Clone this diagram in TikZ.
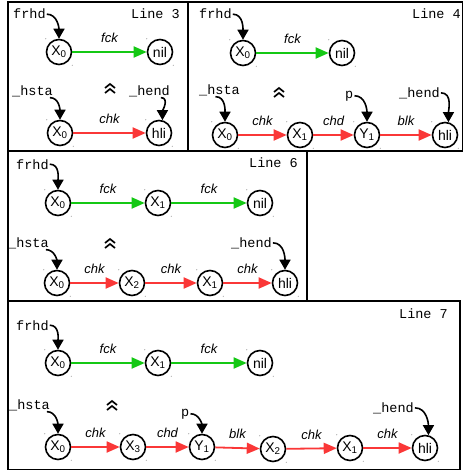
\documentclass[tikz,border=0pt]{standalone}
\usepackage{fontspec}
\setmainfont{Liberation Sans}
\setmonofont{Liberation Mono}
\usetikzlibrary{arrows.meta}

\definecolor{linkgreen}{RGB}{20,200,20}
\definecolor{linkred}{RGB}{250,55,55}

\tikzset{
  elem/.style={circle, draw, line width=1.6pt, minimum size=25pt, inner sep=0pt,
               font=\fontsize{14}{14}\selectfont},
  tag/.style={font=\ttfamily\fontsize{13.5}{13.5}\selectfont, inner sep=1pt, anchor=base west},
  title/.style={font=\ttfamily\fontsize{13.5}{13.5}\selectfont, inner sep=0pt, anchor=base east},
  ptr/.style={line width=1.6pt, -{Triangle[length=10pt,width=11pt]}},
  fwd/.style={draw=linkgreen, line width=1.8pt, -{Triangle[length=13pt,width=11pt]}},
  back/.style={draw=linkred, line width=1.8pt, -{Triangle[length=13pt,width=11pt]}},
  elbl/.style={font=\itshape\fontsize{13}{13}\selectfont, above=7pt, inner sep=1pt},
  frame/.style={line width=1.8pt},
  chev/.style={inner sep=0pt, minimum size=16pt,
    path picture={
      \draw[line width=1.7pt]
        ([shift={(-5pt,1pt)}]path picture bounding box.center) -- ++(5pt,4pt) -- ++(5pt,-4pt);
      \draw[line width=1.7pt]
        ([shift={(-5pt,-4pt)}]path picture bounding box.center) -- ++(5pt,4pt) -- ++(5pt,-4pt);
    }},
}

\newcommand{\ssub}[2]{#1\textsubscript{#2}}

\begin{document}
\begin{tikzpicture}[x=1pt,y=-1pt]
\useasboundingbox (0,0) rectangle (464,471);

% panel frames
\draw[frame] (8,2) rectangle (188,151);
\draw[frame] (188,2) rectangle (462.5,151);
\draw[frame] (8,151) rectangle (307,301);
\draw[frame] (8,301) rectangle (460,469.5);

% ---------- Line 3 ----------
\node[title] (t3) at (180,18) {Line 3};
\node[tag] (fa) at (12,19) {frhd};
\node[elem] (ax0) at (59,52) {\ssub{X}{0}};
\node[elem] (anil) at (160,52) {nil};
\draw[fwd] (ax0) -- node[elbl] {fck} (anil);
\node[chev] (cha) at (110,89) {};
\node[tag] (sa) at (11,95) {\_hsta};
\node[tag] (ea) at (128,95) {\_hend};
\node[elem] (bx0) at (60,133) {\ssub{X}{0}};
\node[elem] (bhli) at (159,133) {hli};
\draw[back] (bx0) -- node[elbl] {chk} (bhli);
\draw[ptr] (fa.east) to[out=0,in=90] (ax0.north);
\draw[ptr] ([xshift=-4pt]sa.south east) to[out=0,in=90] (bx0.north);
\draw[ptr] ([xshift=-10pt]ea.south east) to[out=0,in=90] (bhli.75);

% ---------- Line 4 ----------
\node[title] (t4) at (461,18) {Line 4};
\node[tag] (fb) at (198,19) {frhd};
\node[elem] (cx0) at (243,53) {\ssub{X}{0}};
\node[elem] (cnil) at (342,53) {nil};
\draw[fwd] (cx0) -- node[elbl] {fck} (cnil);
\node[chev] (chb) at (279,93) {};
\node[tag] (sb) at (198,94) {\_hsta};
\node[tag] (pb) at (344,98) {p};
\node[tag] (eb) at (398,97) {\_hend};
\node[elem] (dx0) at (225,135) {\ssub{X}{0}};
\node[elem] (dx1) at (300,135) {\ssub{X}{1}};
\node[elem] (dy1) at (367,135) {\ssub{Y}{1}};
\node[elem] (dhli) at (445,135) {hli};
\draw[back] (dx0) -- node[elbl] {chk} (dx1);
\draw[back] (dx1) -- node[elbl] {chd} (dy1);
\draw[back] (dy1) -- node[elbl] {blk} (dhli);
\draw[ptr] (fb.east) to[out=0,in=90] (cx0.north);
\draw[ptr] ([xshift=-4pt]sb.south) to[out=0,in=90] (dx0.north);
\draw[ptr] (pb.east) to[out=0,in=90] (dy1.north);
\draw[ptr] (eb.east) to[out=0,in=90] (dhli.75);

% ---------- Line 6 ----------
\node[title] (t6) at (298,167) {Line 6};
\node[tag] (fc) at (15,169) {frhd};
\node[elem] (ex0) at (58,203) {\ssub{X}{0}};
\node[elem] (ex1) at (158,203) {\ssub{X}{1}};
\node[elem] (enil) at (260,203) {nil};
\draw[fwd] (ex0) -- node[elbl] {fck} (ex1);
\draw[fwd] (ex1) -- node[elbl] {fck} (enil);
\node[chev] (chc) at (110,244) {};
\node[tag] (sc) at (7,247) {\_hsta};
\node[tag] (ec) at (230,247) {\_hend};
\node[elem] (gx0) at (57,283) {\ssub{X}{0}};
\node[elem] (gx2) at (132,283) {\ssub{X}{2}};
\node[elem] (gx1) at (210,283) {\ssub{X}{1}};
\node[elem] (ghli) at (285,283) {hli};
\draw[back] (gx0) -- node[elbl] {chk} (gx2);
\draw[back] (gx2) -- node[elbl] {chk} (gx1);
\draw[back] (gx1) -- node[elbl] {chk} (ghli);
\draw[ptr] (fc.east) to[out=0,in=90] (ex0.north);
\draw[ptr] ([xshift=-4pt]sc.south east) to[out=0,in=90] (gx0.north);
\draw[ptr] (ec.east) to[out=0,in=90] (ghli.north);

% ---------- Line 7 ----------
\node[title] (t7) at (448,318) {Line 7};
\node[tag] (fd) at (15,330) {frhd};
\node[elem] (hx0) at (58,363) {\ssub{X}{0}};
\node[elem] (hx1) at (158,363) {\ssub{X}{1}};
\node[elem] (hnil) at (260,363) {nil};
\draw[fwd] (hx0) -- node[elbl] {fck} (hx1);
\draw[fwd] (hx1) -- node[elbl] {fck} (hnil);
\node[chev] (chd) at (112,406) {};
\node[tag] (sd) at (8,409) {\_hsta};
\node[tag] (pd) at (180,416) {p};
\node[tag] (ed) at (372,412) {\_hend};
\node[elem] (kx0) at (58,447) {\ssub{X}{0}};
\node[elem] (kx3) at (133,447) {\ssub{X}{3}};
\node[elem] (ky1) at (202,447) {\ssub{Y}{1}};
\node[elem] (kx2) at (273,449) {\ssub{X}{2}};
\node[elem] (kx1) at (350,448) {\ssub{X}{1}};
\node[elem] (khli) at (425,448) {hli};
\draw[back] (kx0) -- node[elbl] {chk} (kx3);
\draw[back] (kx3) -- node[elbl] {chd} (ky1);
\draw[back] (ky1) -- node[elbl] {blk} (kx2);
\draw[back] (kx2) -- node[elbl] {chk} (kx1);
\draw[back] (kx1) -- node[elbl] {chk} (khli);
\draw[ptr] (fd.east) to[out=0,in=90] (hx0.north);
\draw[ptr] ([xshift=-4pt]sd.south east) to[out=0,in=90] (kx0.north);
\draw[ptr] (pd.east) to[out=0,in=90] (ky1.north);
\draw[ptr] (ed.east) to[out=0,in=90] (khli.75);

% small handle marks at the corners of every element
\foreach \n in {ax0,anil,bx0,bhli,cx0,cnil,dx0,dx1,dy1,dhli,
                ex0,ex1,enil,gx0,gx2,gx1,ghli,
                hx0,hx1,hnil,kx0,kx3,ky1,kx2,kx1,khli}{
  \fill[gray!70] (\n.west |- \n.north) circle (0.6);
  \fill[gray!70] (\n.east |- \n.south) circle (0.6);
}
\end{tikzpicture}
\end{document}
